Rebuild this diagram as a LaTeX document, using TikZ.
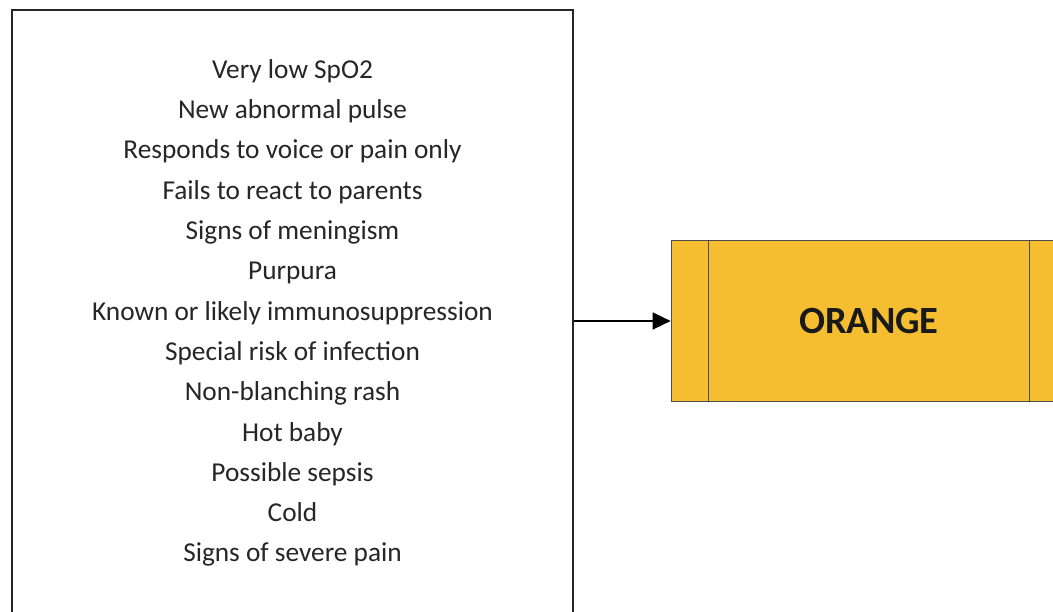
\documentclass[tikz,border=0pt]{standalone}
\usepackage{fontspec}
\setmainfont{Carlito}
\usetikzlibrary{positioning}
\usetikzlibrary{arrows.meta}
\definecolor{triageorange}{RGB}{245,190,48}

\begin{document}
\begin{tikzpicture}[x=1pt, y=-1pt, node distance=97pt]
        \clip (0,0) rectangle (1053,612);
        \fill[white] (0,0) rectangle (1053,612);
        \node [draw=black!85, line width=1.3pt, rectangle, minimum width=561pt, minimum height=606pt, align=center, text=black!85, font=\fontsize{27.3}{40.3}\selectfont] (signs) at (292.5,313) {Very low SpO2\\New abnormal pulse\\Responds to voice or pain only\\Fails to react to parents\\Signs of meningism\\Purpura\\Known or likely immunosuppression\\Special risk of infection\\Non-blanching rash\\Hot baby\\Possible sepsis\\Cold\\Signs of severe pain};
        \node [draw=black!70, fill=triageorange, rectangle, right=of signs, yshift=-8pt, minimum width=396pt, minimum height=161pt, text=black!90, font=\fontsize{38.5}{40}\selectfont\bfseries] (orange) {ORANGE};
        \draw[black!70] ([xshift=38pt]orange.north west) -- ([xshift=38pt]orange.south west);
        \draw[black!70] ([xshift=-38pt]orange.north east) -- ([xshift=-38pt]orange.south east);
        \draw[-{Triangle[length=18pt, width=17pt]}, line width=1.5pt] (signs.east |- orange.west) -- (orange.west);
    \end{tikzpicture}
\end{document}
